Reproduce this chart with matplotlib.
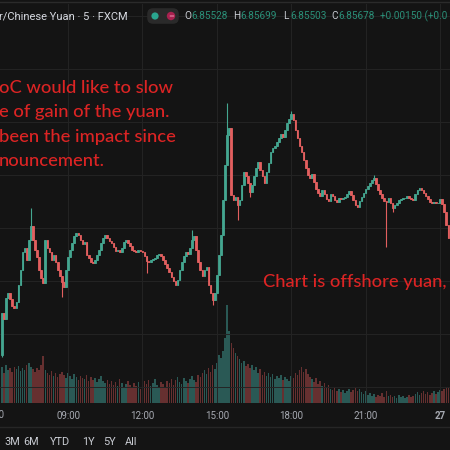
import numpy as np
import matplotlib.pyplot as plt
from matplotlib.patches import FancyBboxPatch, Circle

# =============================================================================
# Data (USD/CNH, 5 minute bars, FXCM)
# =============================================================================
first_open = 6.8445
closes = [
    6.8487, 6.8481, 6.8502, 6.8507, 6.8501, 6.8494, 6.8492, 6.8498, 6.8515, 6.8530,
    6.8548, 6.8552, 6.8540, 6.8560, 6.8574, 6.8560, 6.8550, 6.8543, 6.8530, 6.8522,
    6.8517, 6.8560, 6.8552, 6.8548, 6.8540, 6.8545, 6.8538, 6.8530, 6.8524, 6.8518,
    6.8513, 6.8530, 6.8543, 6.8550, 6.8557, 6.8564, 6.8567, 6.8565, 6.8560, 6.8556,
    6.8558, 6.8545, 6.8542, 6.8538, 6.8537, 6.8540, 6.8545, 6.8550, 6.8557, 6.8562,
    6.8565, 6.8562, 6.8559, 6.8557, 6.8553, 6.8549, 6.8550, 6.8548, 6.8552, 6.8558,
    6.8560, 6.8557, 6.8554, 6.8550, 6.8549, 6.8548, 6.8550, 6.8549, 6.8548, 6.8544,
    6.8539, 6.8538, 6.8540, 6.8541, 6.8542, 6.8545, 6.8546, 6.8544, 6.8540, 6.8536,
    6.8532, 6.8528, 6.8523, 6.8519, 6.8515, 6.8520, 6.8530, 6.8538, 6.8544, 6.8548,
    6.8546, 6.8552, 6.8560, 6.8564, 6.8550, 6.8538, 6.8530, 6.8524, 6.8530, 6.8533,
    6.8515, 6.8507, 6.8500, 6.8507, 6.8525, 6.8545, 6.8565, 6.8600, 6.8635, 6.8665,
    6.8672, 6.8605, 6.8600, 6.8603, 6.8595, 6.8600, 6.8615, 6.8628, 6.8624, 6.8617,
    6.8608, 6.8615, 6.8624, 6.8632, 6.8638, 6.8630, 6.8624, 6.8617, 6.8628, 6.8637,
    6.8648, 6.8652, 6.8654, 6.8658, 6.8662, 6.8666, 6.8663, 6.8670, 6.8677, 6.8681,
    6.8686, 6.8680, 6.8670, 6.8662, 6.8654, 6.8648, 6.8640, 6.8632, 6.8625, 6.8622,
    6.8626, 6.8618, 6.8611, 6.8607, 6.8604, 6.8610, 6.8606, 6.8601, 6.8599, 6.8606,
    6.8604, 6.8600, 6.8598, 6.8602, 6.8601, 6.8602, 6.8603, 6.8606, 6.8609, 6.8605,
    6.8600, 6.8595, 6.8593, 6.8599, 6.8603, 6.8607, 6.8611, 6.8614, 6.8617, 6.8620,
    6.8622, 6.8616, 6.8610, 6.8606, 6.8602, 6.8599, 6.8598, 6.8602, 6.8597, 6.8592,
    6.8595, 6.8597, 6.8600, 6.8601, 6.8602, 6.8602, 6.8604, 6.8602, 6.8601, 6.8600,
    6.8606, 6.8610, 6.8612, 6.8610, 6.8607, 6.8604, 6.8601, 6.8598, 6.8597, 6.8598,
    6.8597, 6.8597, 6.8601, 6.8596, 6.8588, 6.8575, 6.8562,
]
# only the wicks that stick out visibly
wick_high = {14: 6.8592, 92: 6.8570, 109: 6.8697, 140: 6.8689, 180: 6.8625}
wick_low = {0: 6.8443, 29: 6.8503, 70: 6.8527, 102: 6.8495, 114: 6.8580,
            120: 6.8603, 186: 6.8553, 189: 6.8588}
volumes = [
    36, 30, 38, 33, 35, 31, 36, 34, 37, 32,
    35, 33, 38, 40, 36, 34, 31, 35, 33, 38,
    47, 33, 30, 28, 32, 27, 30, 26, 29, 31,
    28, 25, 30, 27, 24, 29, 26, 23, 27, 25,
    24, 28, 22, 26, 23, 25, 21, 24, 27, 22,
    20, 23, 19, 22, 18, 21, 17, 24, 20, 16,
    19, 22, 18, 15, 20, 17, 21, 14, 18, 22,
    19, 23, 17, 20, 24, 18, 16, 21, 19, 15,
    22, 20, 24, 18, 23, 26, 21, 19, 25, 22,
    20, 24, 27, 23, 21, 28, 26, 30, 33, 29,
    35, 31, 38, 34, 40, 48, 45, 52, 65, 98,
    72, 60, 55, 50, 47, 44, 40, 42, 37, 39,
    35, 38, 33, 36, 30, 34, 28, 31, 27, 30,
    26, 29, 24, 27, 25, 28, 23, 26, 24, 22,
    27, 25, 30, 28, 33, 36, 31, 34, 29, 26,
    24, 21, 25, 19, 22, 17, 20, 15, 18, 14,
    13, 16, 12, 14, 11, 13, 10, 12, 14, 11,
    13, 15, 12, 14, 11, 9, 12, 8, 10, 7,
    9, 6, 8, 7, 10, 6, 12, 7, 8, 6,
    7, 5, 8, 6, 7, 5, 6, 8, 6, 7,
    9, 11, 8, 10, 12, 9, 11, 8, 10, 12,
    9, 11, 13, 12, 14, 16, 15,
]
time_ticks = [32, 68, 104, 140, 176, 212]
time_labels = ['09:00', '12:00', '15:00', '18:00', '21:00', '27']
range_buttons = ['3M', '6M', 'YTD', '1Y', '5Y', 'All']
ohlc_text = [('O', '6.85528'), ('H', '6.85699'), ('L', '6.85503'), ('C', '6.85678')]
note_lines = ['oC would like to slow', 'e of gain of the yuan.',
              'been the impact since', 'nouncement.']

# --- colours ---
BG = '#141414'
GRID = '#242424'
GREEN = '#44a690'
RED = '#e25f5f'
VGREEN = '#2a5955'
VRED = '#663030'
TXT = '#c9ccd3'
NOTE = '#dc2424'

W, H = 450, 450

def px(x, y):
    """pixel (from top-left) -> figure fraction"""
    return x / W, 1 - y / H

# =============================================================================
# Figure
# =============================================================================
fig = plt.figure(figsize=(4.5, 4.5), dpi=100, facecolor=BG)
rect = [0, 47 / H, 1, 399 / H]
vol_ax = fig.add_axes(rect)
vol_ax.set_facecolor(BG)
ax = fig.add_axes(rect, sharex=vol_ax)
ax.patch.set_visible(False)

closes = np.array(closes)
idx = np.arange(len(closes))
opens = np.r_[first_open, closes[:-1]]
highs = np.maximum(opens, closes)
lows = np.minimum(opens, closes)
for i, v in wick_high.items():
    highs[i] = v
for i, v in wick_low.items():
    lows[i] = v
up = closes >= opens
colors = np.where(up, GREEN, RED)

# volume underneath
vol_ax.bar(idx, volumes, width=0.75, color=np.where(up, VGREEN, VRED), lw=0)
vol_ax.set_ylim(0, 399)
vol_ax.axis('off')

# candles
ax.vlines(idx, lows, highs, colors=colors, lw=0.8, zorder=3)
ax.bar(idx, np.abs(closes - opens), bottom=np.minimum(opens, closes), width=0.8,
       color=colors, edgecolor=colors, lw=0.6, zorder=4)

ax.set_xlim(-0.92, 216.8)
ax.set_ylim(6.8397, 6.8796)
ax.set_yticks(np.arange(6.8413, 6.8796, 0.0053))
ax.set_xticks(time_ticks)
ax.set_xticklabels(time_labels, family='Roboto')
ax.get_xticklabels()[-1].set_fontweight('bold')
ax.get_xticklabels()[-1].set_color('#e0e3ea')
ax.tick_params(axis='x', length=0, colors='#a7aab2', labelsize=7, pad=6)
ax.tick_params(axis='y', left=False, labelleft=False)
ax.grid(True, color=GRID, lw=0.7)
ax.set_axisbelow(True)
for s in ax.spines.values():
    s.set_visible(False)

# 06:00 label, cut by the left edge as in the screenshot
ax.text(-4.6, -12.5 / 399, '06:00', transform=ax.get_xaxis_transform(), ha='center',
        va='center', fontsize=7, color='#a7aab2', family='Roboto', clip_on=False)

# =============================================================================
# Header (legend line)
# =============================================================================
fig.add_artist(plt.Line2D([0, 1], [1 - 2 / H] * 2, color='#2b2b2b', lw=1))
fig.text(*px(-1, 16), 'r/Chinese Yuan · 5 · FXCM', color='#d6d9e0', fontsize=8,
         family='Roboto', va='center', ha='left')
pill = FancyBboxPatch(px(149, 22), 28 / W, 12 / H, boxstyle='round,pad=0.004,rounding_size=0.013',
                      transform=fig.transFigure, fc='#2a2a2a', ec='none')
fig.add_artist(pill)
fig.add_artist(Circle(px(155, 16), 3.6 / W, transform=fig.transFigure, fc='#2aa58e', ec='none'))
fig.add_artist(Circle(px(171, 16), 4.2 / W, transform=fig.transFigure, fc='#a8214f', ec='none'))
fig.text(*px(171, 16), '=', color='#e58aa8', fontsize=5, ha='center', va='center')

ohlc_x = [184, 233, 283, 331]
for (letter, val), x0 in zip(ohlc_text, ohlc_x):
    fig.text(*px(x0, 16), letter, color='#c8cbd2', fontsize=7.2, family='Roboto', va='center')
    fig.text(*px(x0 + 7, 16), val, color='#2a8f78', fontsize=7.2, family='Roboto', va='center')
fig.text(*px(380, 16), '+0.00150 (+0.0', color='#2a8f78', fontsize=7.2, family='Roboto',
         va='center')

# =============================================================================
# Notes written on the chart
# =============================================================================
for k, line in enumerate(note_lines):
    fig.text(*px(-1, 88 + 24.3 * k), line, color=NOTE, fontsize=13.2, family='Lato',
             fontweight='medium', va='center', ha='left')
fig.text(*px(263, 282), 'Chart is offshore yuan,', color=NOTE, fontsize=13.2, family='Lato',
         fontweight='medium', va='center', ha='left')

# =============================================================================
# Bottom toolbar
# =============================================================================
fig.add_artist(plt.Line2D([0, 1], [1 - 427 / H] * 2, color='#262626', lw=1))
for lab, x0 in zip(range_buttons, [4, 23, 50, 82, 103, 125]):
    fig.text(*px(x0, 442), lab, color=TXT, fontsize=7.8, family='Roboto', va='center')

fig.savefig('out.png', dpi=100, facecolor=BG)
